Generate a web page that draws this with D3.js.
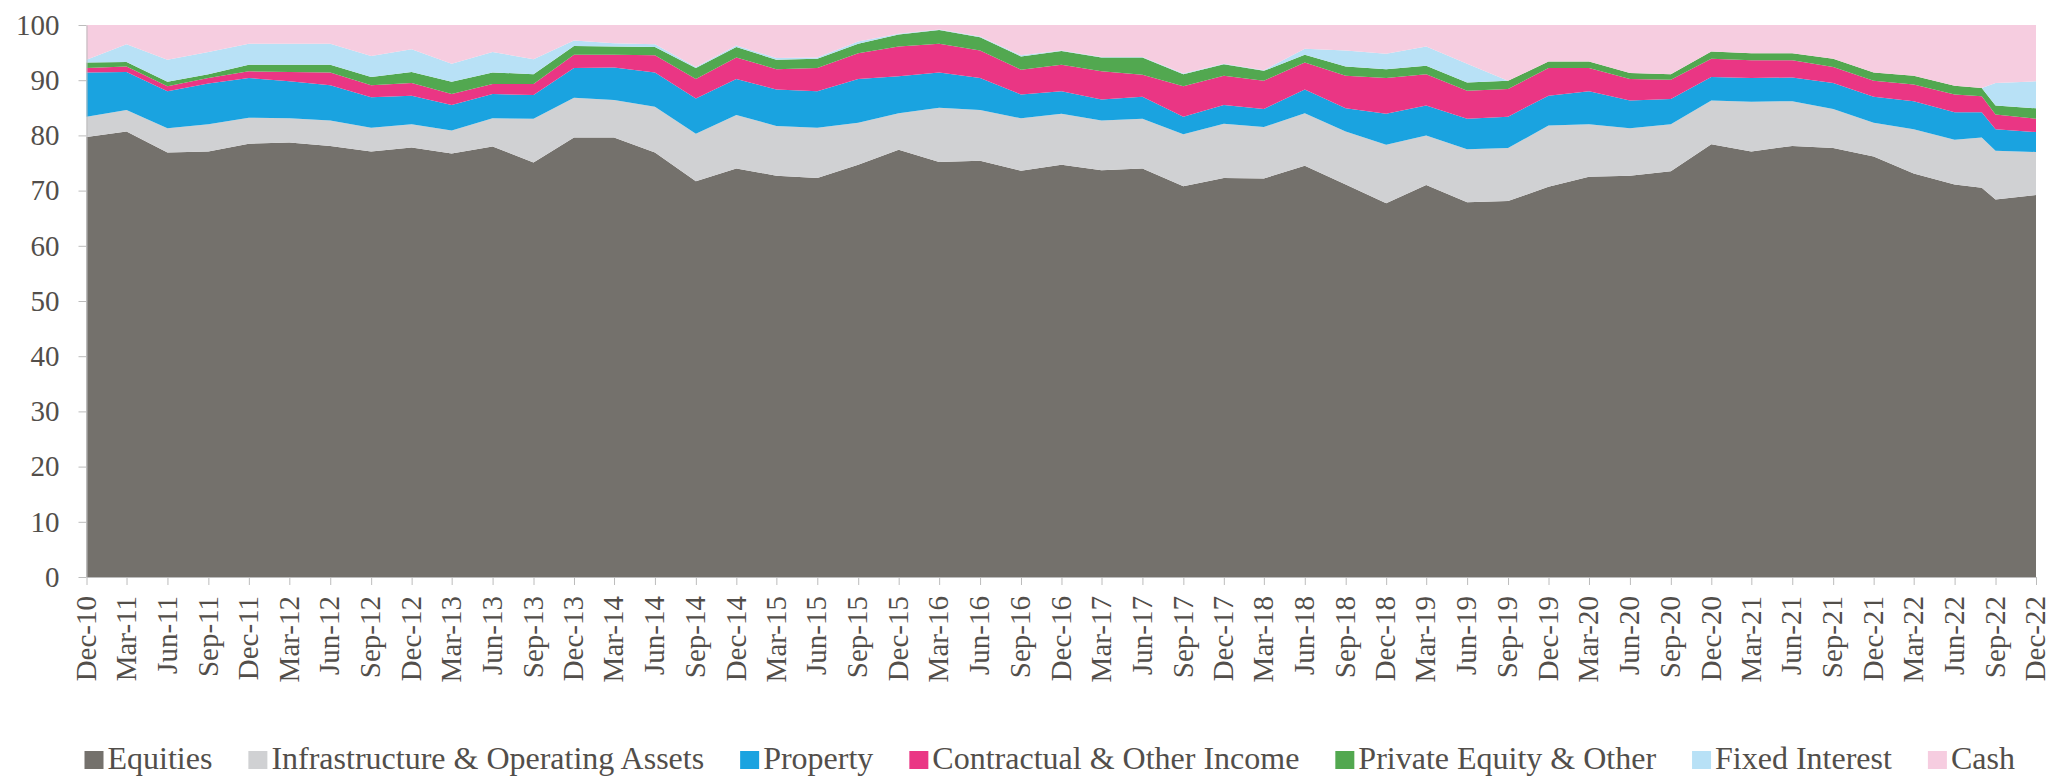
<!DOCTYPE html>
<html>
<head>
<meta charset="utf-8">
<script src="https://cdn.jsdelivr.net/npm/d3@7"></script>
<style>
  body { margin: 0; background: #fff; }
  text { font-family: "Liberation Serif", "DejaVu Serif", serif; fill: #524e4a; }
  .axis path, .axis line { stroke: #bcbcbc; }
</style>
</head>
<body>
<div id="chart"></div>
<script>
// data points (quarter ends, plus one extra reading in Aug-22)
var dates = ["Dec-10","Mar-11","Jun-11","Sep-11","Dec-11","Mar-12","Jun-12","Sep-12","Dec-12",
  "Mar-13","Jun-13","Sep-13","Dec-13","Mar-14","Jun-14","Sep-14","Dec-14","Mar-15","Jun-15",
  "Sep-15","Dec-15","Mar-16","Jun-16","Sep-16","Dec-16","Mar-17","Jun-17","Sep-17","Dec-17",
  "Mar-18","Jun-18","Sep-18","Dec-18","Mar-19","Jun-19","Sep-19","Dec-19","Mar-20","Jun-20",
  "Sep-20","Dec-20","Mar-21","Jun-21","Sep-21","Dec-21","Mar-22","Jun-22","Aug-22","Sep-22","Dec-22"];

var equities = [79.7,80.7,76.9,77.1,78.5,78.7,78.1,77.1,77.8,76.7,78.0,75.1,79.6,79.6,76.9,71.7,74.0,
  72.7,72.3,74.7,77.4,75.2,75.4,73.6,74.7,73.7,74.0,70.8,72.3,72.2,74.5,71.1,67.7,71.0,67.9,68.1,
  70.7,72.5,72.7,73.5,78.4,77.1,78.1,77.7,76.2,73.1,71.1,70.5,68.4,69.2];
var infrastructure = [3.7,3.9,4.4,4.9,4.7,4.4,4.6,4.3,4.2,4.2,5.1,7.9,7.2,6.8,8.3,8.6,9.7,
  9.0,9.1,7.6,6.6,9.8,9.2,9.5,9.2,9.0,9.0,9.4,9.8,9.3,9.5,9.6,10.6,9.0,9.6,9.6,
  11.1,9.5,8.6,8.5,7.9,9.0,8.1,7.1,6.1,8.0,8.1,9.1,8.8,7.8];
var property = [8.0,6.9,6.7,7.4,7.2,6.7,6.4,5.5,5.2,4.6,4.4,4.3,5.4,5.9,6.2,6.4,6.5,
  6.6,6.6,7.9,6.7,6.4,5.8,4.3,4.1,3.8,4.0,3.2,3.4,3.3,4.3,4.2,5.6,5.4,5.5,5.7,
  5.4,6.0,5.0,4.6,4.3,4.3,4.3,4.7,4.7,5.1,5.0,4.6,3.9,3.6];
var contractual = [0.8,1.0,0.9,1.0,1.2,1.7,2.3,2.2,2.3,2.0,1.8,2.0,2.4,2.3,3.1,3.5,3.9,
  3.7,4.2,4.7,5.4,5.2,5.0,4.5,4.8,5.1,4.0,5.5,5.3,5.1,4.9,5.9,6.5,5.7,5.1,5.0,
  5.0,4.2,3.9,3.5,3.3,3.2,3.1,2.9,2.9,3.0,3.2,2.9,2.7,2.4];
var privateEquity = [1.0,0.8,0.8,0.7,1.2,1.3,1.4,1.5,2.0,2.2,2.1,1.8,1.6,1.5,1.5,2.0,1.9,
  1.7,1.7,1.7,2.2,2.5,2.4,2.4,2.5,2.5,3.1,2.2,2.1,1.8,1.4,1.7,1.6,1.5,1.5,1.5,
  1.2,1.2,1.1,1.0,1.3,1.3,1.3,1.5,1.5,1.6,1.6,1.5,1.6,1.9];
var fixedInterest = [0.5,3.2,4.0,4.0,3.8,3.8,3.8,3.8,4.1,3.3,3.7,2.7,1.0,0.6,0.5,0.2,0.3,
  0.3,0.2,0.4,0.1,0.1,0.1,0.2,0.1,0.1,0.1,0.1,0.1,0.1,1.1,2.9,2.8,3.5,3.4,0,
  0,0,0,0,0,0,0,0,0,0,0,0,4.1,4.9];
var cash = [6.3,3.5,6.3,4.9,3.4,3.4,3.4,5.6,4.4,7.0,4.9,6.2,2.8,3.3,3.5,7.6,3.7,
  6.0,5.9,3.0,1.6,0.8,2.1,5.5,4.6,5.8,5.8,8.8,7.0,8.2,4.3,4.6,5.2,3.9,7.0,10.1,
  6.6,6.6,8.7,8.9,4.8,5.1,5.1,6.1,8.6,9.2,11.0,11.4,10.5,10.2];

var seriesNames = ["Equities","Infrastructure & Operating Assets","Property",
  "Contractual & Other Income","Private Equity & Other","Fixed Interest","Cash"];
var seriesColors = ["#74716c","#d0d1d3","#1aa3e0","#ea3684","#52a850","#b8e1f6","#f6cde0"];

var tickLabels = ["Dec-10","Mar-11","Jun-11","Sep-11","Dec-11","Mar-12","Jun-12","Sep-12","Dec-12",
  "Mar-13","Jun-13","Sep-13","Dec-13","Mar-14","Jun-14","Sep-14","Dec-14","Mar-15","Jun-15",
  "Sep-15","Dec-15","Mar-16","Jun-16","Sep-16","Dec-16","Mar-17","Jun-17","Sep-17","Dec-17",
  "Mar-18","Jun-18","Sep-18","Dec-18","Mar-19","Jun-19","Sep-19","Dec-19","Mar-20","Jun-20",
  "Sep-20","Dec-20","Mar-21","Jun-21","Sep-21","Dec-21","Mar-22","Jun-22","Sep-22","Dec-22"];
var yTicks = [0,10,20,30,40,50,60,70,80,90,100];

// margin convention
var W = 2051, H = 776;
var margin = {top: 25, right: 15, bottom: 199, left: 86.5}
  , width = W - margin.left - margin.right
  , height = H - margin.top - margin.bottom;

var parse = d3.timeParse("%b-%y");
var seriesData = [equities, infrastructure, property, contractual, privateEquity, fixedInterest, cash];

// one row per date for d3.stack
var rows = dates.map(function(d, i) {
  var row = {date: parse(d)};
  seriesNames.forEach(function(name, k) { row[name] = seriesData[k][i]; });
  return row;
});

var stacked = d3.stack().keys(seriesNames)(rows);

var xScale = d3.scaleTime()
    .domain([parse(tickLabels[0]), parse(tickLabels[tickLabels.length - 1])])
    .range([0, width]);

var yScale = d3.scaleLinear()
    .domain([0, 100])
    .range([height, 0]);

var area = d3.area()
    .x(function(d) { return xScale(d.data.date); })
    .y0(function(d) { return yScale(d[0]); })
    .y1(function(d) { return yScale(d[1]); });

var svg = d3.select("#chart").append("svg")
    .attr("width", W)
    .attr("height", H);

var g = svg.append("g")
    .attr("transform", "translate(" + margin.left + "," + margin.top + ")");

// stacked areas
g.selectAll(".layer")
    .data(stacked)
    .enter().append("path")
    .attr("class", "layer")
    .attr("fill", function(d, i) { return seriesColors[i]; })
    .attr("d", area);

// y axis
var yAxis = g.append("g")
    .attr("class", "axis y")
    .call(d3.axisLeft(yScale).tickValues(yTicks).tickSize(8).tickSizeOuter(0).tickPadding(19));
yAxis.selectAll("text").style("font-size", "29px");

// x axis, labels rotated
var xAxis = g.append("g")
    .attr("class", "axis x")
    .attr("transform", "translate(0," + height + ")")
    .call(d3.axisBottom(xScale)
      .tickValues(tickLabels.map(parse))
      .tickFormat(d3.timeFormat("%b-%y"))
      .tickSize(8).tickSizeOuter(0));
xAxis.selectAll("text")
    .style("font-size", "29px")
    .attr("y", 0)
    .attr("x", -19)
    .attr("dy", ".3em")
    .attr("transform", "rotate(-90)")
    .style("text-anchor", "end");

// legend
var legend = svg.append("g").attr("class", "legend");
var lx = margin.left - 2;
seriesNames.forEach(function(name, i) {
  var item = legend.append("g").attr("transform", "translate(" + lx + ",0)");
  item.append("rect")
      .attr("x", 0).attr("y", 751)
      .attr("width", 19).attr("height", 18)
      .attr("fill", seriesColors[i]);
  var t = item.append("text")
      .attr("x", 23).attr("y", 769)
      .style("font-size", "32px")
      .text(name);
  lx += 23 + t.node().getComputedTextLength() + 36;
});
</script>
</body>
</html>
